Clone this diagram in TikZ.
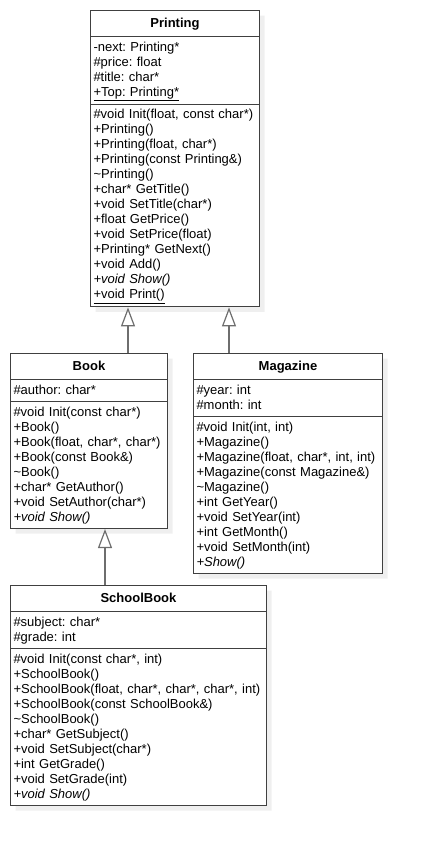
\documentclass[tikz,border=0pt]{standalone}
\usepackage{fontspec}
\setmainfont{Liberation Sans}
\usepackage{tikz}
\usetikzlibrary{shapes.multipart, arrows.meta, positioning, calc, shadows}
\definecolor{umlline}{HTML}{404040}
\definecolor{umlshadow}{HTML}{EFEFEF}
\definecolor{umllink}{HTML}{6E6E6E}
\frenchspacing
\newcommand{\ml}{\rule[-4pt]{0pt}{15pt}}
\newcommand{\umltitle}[1]{\makebox[\linewidth][c]{\rule[-5.5pt]{0pt}{19pt}\textbf{#1}}}
\tikzset{
  classbox/.style={
    rectangle split, rectangle split parts=3,
    draw=umlline, line width=1pt, fill=white,
    drop shadow={shadow xshift=5pt, shadow yshift=-5pt, fill=umlshadow, opacity=1},
    text width=#1, align=left,
    font=\fontsize{13}{15}\selectfont,
    inner xsep=3pt, inner ysep=3pt, anchor=north west
  },
  inherit/.style={-{Triangle[length=19pt, width=14pt, fill=white]}, line width=1.2pt, draw=umllink}
}

\begin{document}
\begin{tikzpicture}[x=1pt, y=-1pt]
    \useasboundingbox (0,0) rectangle (422,846);
    \node[classbox=163pt] (Printing) at (90,10) {\umltitle{Printing}
      \nodepart{two}\ml -next: Printing*\\ \ml\#price: float\\ \ml\#title: char*\\ \ml\underline{+Top: Printing*}
      \nodepart{three}\ml\#void Init(float, const char*)\\ \ml+Printing()\\ \ml+Printing(float, char*)\\
      \ml+Printing(const Printing\&)\\ \ml\textasciitilde Printing()\\ \ml+char* GetTitle()\\
      \ml+void SetTitle(char*)\\ \ml+float GetPrice()\\ \ml+void SetPrice(float)\\
      \ml+Printing* GetNext()\\ \ml+void Add()\\ \ml\textit{+void Show()}\\ \ml\underline{+void Print()}};
    \node[classbox=151pt] (Book) at (10,353) {\umltitle{Book}
      \nodepart{two}\ml\#author: char*
      \nodepart{three}\ml\#void Init(const char*)\\ \ml+Book()\\ \ml+Book(float, char*, char*)\\
      \ml+Book(const Book\&)\\ \ml\textasciitilde Book()\\ \ml+char* GetAuthor()\\
      \ml+void SetAuthor(char*)\\ \ml\textit{+void Show()}};
    \node[classbox=183pt] (Magazine) at (193,353) {\umltitle{Magazine}
      \nodepart{two}\ml\#year: int\\ \ml\#month: int
      \nodepart{three}\ml\#void Init(int, int)\\ \ml+Magazine()\\ \ml+Magazine(float, char*, int, int)\\
      \ml+Magazine(const Magazine\&)\\ \ml\textasciitilde Magazine()\\ \ml+int GetYear()\\
      \ml+void SetYear(int)\\ \ml+int GetMonth()\\ \ml+void SetMonth(int)\\ \ml\textit{+Show()}};
    \node[classbox=250pt] (SchoolBook) at (10,585) {\umltitle{SchoolBook}
      \nodepart{two}\ml\#subject: char*\\ \ml\#grade: int
      \nodepart{three}\ml\#void Init(const char*, int)\\ \ml+SchoolBook()\\
      \ml+SchoolBook(float, char*, char*, char*, int)\\ \ml+SchoolBook(const SchoolBook\&)\\
      \ml\textasciitilde SchoolBook()\\ \ml+char* GetSubject()\\ \ml+void SetSubject(char*)\\
      \ml+int GetGrade()\\ \ml+void SetGrade(int)\\ \ml\textit{+void Show()}};
    \coordinate (bk) at ($(Book.north west)+(118,0)$);
    \coordinate (mg) at ($(Magazine.north west)+(36,0)$);
    \coordinate (sb) at ($(SchoolBook.north west)+(95,0)$);
    \draw[inherit] (bk) -- (bk |- Printing.south);
    \draw[inherit] (mg) -- (mg |- Printing.south);
    \draw[inherit] (sb) -- (sb |- Book.south);
  \end{tikzpicture}
\end{document}
